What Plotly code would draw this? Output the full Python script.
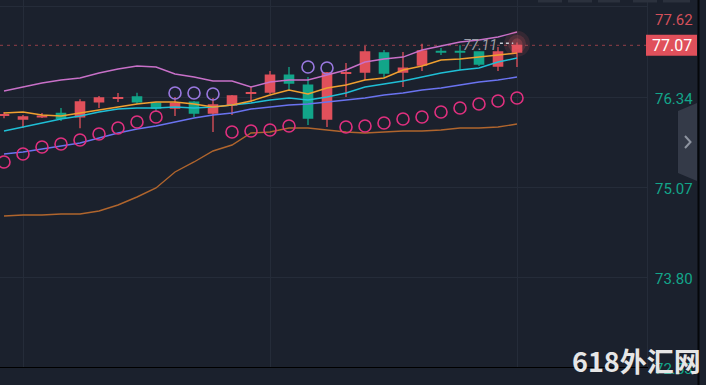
import plotly.graph_objects as go

# ---------------- data ----------------
bar_index = list(range(28))

opens = [76.08, 76.03, 76.06, 76.11, 76.06, 76.27, 76.32, 76.34, 76.255, 76.185,
         76.269, 76.114, 76.227, 76.39, 76.41, 76.65, 76.509, 76.03, 76.675, 76.693,
         76.961, 76.693, 76.79, 76.985, 76.985, 76.975, 76.777, 76.975]
highs = [76.13, 76.086, 76.114, 76.185, 76.31, 76.354, 76.396, 76.40, 76.27, 76.34,
         76.284, 76.326, 76.368, 76.481, 76.707, 76.763, 76.622, 76.693, 76.82, 77.06,
         77.003, 76.975, 77.09, 77.03, 77.07, 76.98, 77.046, 77.11]
lows = [76.04, 75.903, 76.044, 76.001, 75.90, 76.185, 76.269, 76.24, 76.128, 76.072,
        76.058, 75.846, 76.086, 76.269, 76.382, 76.439, 75.945, 75.917, 76.34, 76.58,
        76.608, 76.481, 76.707, 76.933, 76.721, 76.777, 76.707, 76.763]
closes = [76.09, 76.058, 76.07, 76.04, 76.27, 76.326, 76.33, 76.27, 76.185, 76.255,
          76.114, 76.227, 76.354, 76.40, 76.65, 76.538, 76.044, 76.679, 76.685, 76.975,
          76.679, 76.749, 76.99, 76.975, 76.975, 76.806, 76.975, 77.07]

ma5 = [76.114, 76.128, 76.086, 76.072, 76.114, 76.157, 76.199, 76.241, 76.269, 76.269,
       76.241, 76.199, 76.227, 76.284, 76.368, 76.439, 76.382, 76.467, 76.509, 76.580,
       76.608, 76.721, 76.777, 76.862, 76.876, 76.904, 76.933, 76.961]
ma10 = [75.860, 75.917, 75.973, 76.030, 76.072, 76.128, 76.171, 76.185, 76.185, 76.199,
        76.185, 76.199, 76.227, 76.255, 76.298, 76.326, 76.298, 76.340, 76.396, 76.481,
        76.523, 76.566, 76.622, 76.679, 76.721, 76.749, 76.834, 76.890]
boll_mid = [75.536, 75.564, 75.606, 75.649, 75.691, 75.761, 75.832, 75.888, 75.931, 75.987,
            76.044, 76.086, 76.114, 76.171, 76.199, 76.227, 76.241, 76.269, 76.298, 76.326,
            76.368, 76.396, 76.439, 76.467, 76.509, 76.552, 76.580, 76.622]
boll_up = [76.425, 76.481, 76.538, 76.580, 76.608, 76.679, 76.735, 76.777, 76.763, 76.665,
           76.622, 76.566, 76.566, 76.481, 76.552, 76.580, 76.580, 76.650, 76.721, 76.834,
           76.876, 76.904, 77.003, 77.060, 77.116, 77.144, 77.187, 77.257]
boll_low = [74.661, 74.675, 74.675, 74.689, 74.689, 74.731, 74.816, 74.929, 75.056, 75.282,
            75.423, 75.578, 75.663, 75.832, 75.846, 75.903, 75.903, 75.874, 75.846, 75.832,
            75.846, 75.860, 75.860, 75.874, 75.903, 75.903, 75.917, 75.959]
sar = [75.423, 75.536, 75.634, 75.677, 75.733, 75.818, 75.903, 75.987, 76.058, 76.396,
       76.396, 76.382, 75.846, 75.860, 75.874, 75.931, 76.763, 76.749, 75.917, 75.931,
       75.973, 76.030, 76.058, 76.128, 76.185, 76.241, 76.284, 76.326]

tick_values = [77.62, 76.34, 75.07, 73.80, 72.53]
tick_labels = ["77.62", "76.34", "75.07", "73.80", "72.53"]
last_price = 77.07
max_price = 77.11
watermark = "618外汇网"

# ---------------- style ----------------
BG = "#1b212d"
GRID = "#252c39"
UP = "#e0505b"
DOWN = "#12a589"
Y_RANGE = [72.53, 77.709]
X_RANGE = [-0.2105, 33.842]
PLOT_W, PLOT_H = 647, 367

def px(x):
    return x / PLOT_W

def py(y):
    return 1 - y / PLOT_H

fig = go.Figure()

fig.add_trace(go.Candlestick(
    x=bar_index, open=opens, high=highs, low=lows, close=closes,
    increasing=dict(line=dict(color=UP, width=1.3), fillcolor=UP),
    decreasing=dict(line=dict(color=DOWN, width=1.3), fillcolor=DOWN),
    whiskerwidth=0, hoverinfo="skip", showlegend=False))

for series, color in [(boll_low, "#b0652d"), (boll_up, "#c870c8"), (boll_mid, "#6a73f0"),
                      (ma10, "#1fbfd6"), (ma5, "#f0a030")]:
    fig.add_trace(go.Scatter(x=bar_index, y=series, mode="lines",
                             line=dict(color=color, width=1.4),
                             hoverinfo="skip", showlegend=False))

sar_colors = ["#9a78e0" if s > c else "#e0307f" for s, c in zip(sar, closes)]
fig.add_trace(go.Scatter(x=bar_index, y=sar, mode="markers",
                         marker=dict(symbol="circle-open", size=12,
                                     color=sar_colors, line=dict(width=1.6, color=sar_colors)),
                         hoverinfo="skip", showlegend=False))

# glow around last candle
for size, op in [(26, 0.12), (18, 0.18), (11, 0.25)]:
    fig.add_trace(go.Scatter(x=[bar_index[-1]], y=[max_price - 0.02], mode="markers",
                             marker=dict(size=size, color="rgba(235,90,100,%.2f)" % op,
                                         line=dict(width=0)),
                             hoverinfo="skip", showlegend=False))

shapes = []
# current price dashed line
shapes.append(dict(type="line", xref="paper", yref="y", x0=0, x1=1, y0=last_price, y1=last_price,
                   line=dict(color="#7a3842", width=1.3, dash="3px,4px"), layer="below"))
# max price dotted leader
shapes.append(dict(type="line", xref="x", yref="y", x0=26.1, x1=26.8, y0=max_price - 0.01,
                   y1=max_price - 0.01, line=dict(color="#c8ccd4", width=1.5, dash="dot")))
# price label box
shapes.append(dict(type="rect", xref="paper", yref="y", x0=px(646), x1=px(697),
                   y0=last_price - 0.148, y1=last_price + 0.148,
                   fillcolor="#e0505b", line=dict(width=0)))
# right black border
shapes.append(dict(type="line", xref="paper", yref="paper", x0=px(698.5), x1=px(698.5),
                   y0=-0.1, y1=1.1, line=dict(color="#05070a", width=2)))
# scroll tab
shapes.append(dict(type="path", xref="paper", yref="paper",
                   path="M %f,%f L %f,%f L %f,%f L %f,%f Z" % (
                       px(678), py(111), px(697), py(103), px(697), py(181), px(678), py(173)),
                   fillcolor="#343a48", line=dict(width=0)))
shapes.append(dict(type="path", xref="paper", yref="paper",
                   path="M %f,%f L %f,%f L %f,%f" % (
                       px(685), py(136), px(690.5), py(142), px(685), py(148)),
                   line=dict(color="#8e94a0", width=2)))
# top toolbar buttons (only bottoms visible)
for x0, x1 in [(538, 562), (568, 592), (598, 620), (633, 657), (663, 690)]:
    shapes.append(dict(type="rect", xref="paper", yref="paper", x0=px(x0), x1=px(x1),
                       y0=py(2.5), y1=py(-6), fillcolor="#2b313d", line=dict(width=0)))

annotations = []
for val, lab in zip(tick_values, tick_labels):
    color = "#d4505a" if val > last_price else "#13a68a"
    y_pos = min(val, 77.455)
    annotations.append(dict(xref="paper", yref="y", x=px(653), y=y_pos, text=lab,
                            showarrow=False, xanchor="left", yanchor="middle", yshift=-2,
                            font=dict(family="Roboto", size=15, color=color)))
annotations.append(dict(xref="paper", yref="y", x=px(671.5), y=last_price,
                        text="%.2f" % last_price, showarrow=False,
                        xanchor="center", yanchor="middle",
                        font=dict(family="Roboto", size=16, color="#ffffff")))
annotations.append(dict(xref="x", yref="y", x=25.05, y=max_price, yshift=-3,
                        text="<i>%.2f</i>" % max_price, showarrow=False,
                        xanchor="center", yanchor="middle",
                        font=dict(family="Roboto", size=14, color="#9ca0aa")))
annotations.append(dict(xref="paper", yref="paper", x=px(636), y=py(360), text="<b>%s</b>" % watermark,
                        showarrow=False, xanchor="center", yanchor="middle",
                        font=dict(family="Noto Sans CJK SC", size=27, color="#e6e6e6")))

fig.update_layout(
    width=706, height=385,
    margin=dict(l=0, r=59, t=0, b=18, pad=0),
    paper_bgcolor=BG, plot_bgcolor=BG,
    showlegend=False, hovermode=False,
    shapes=shapes, annotations=annotations,
    xaxis=dict(range=X_RANGE, tickvals=[1, 14, 27], showticklabels=False,
               showgrid=True, gridcolor=GRID, gridwidth=1, zeroline=False,
               showline=True, linecolor="#000000", linewidth=1.2,
               rangeslider=dict(visible=False), fixedrange=True),
    yaxis=dict(range=Y_RANGE, side="right", tickvals=tick_values, showticklabels=False,
               showgrid=True, gridcolor=GRID, gridwidth=1, zeroline=False,
               showline=True, linecolor=GRID, linewidth=1, fixedrange=True),
)

fig.write_html("out.html", config={"displayModeBar": False},
               post_script="document.body.style.margin='0';document.body.style.padding='0';"
                           "document.body.style.background='%s';"
                           "document.body.style.overflow='hidden';" % BG)
